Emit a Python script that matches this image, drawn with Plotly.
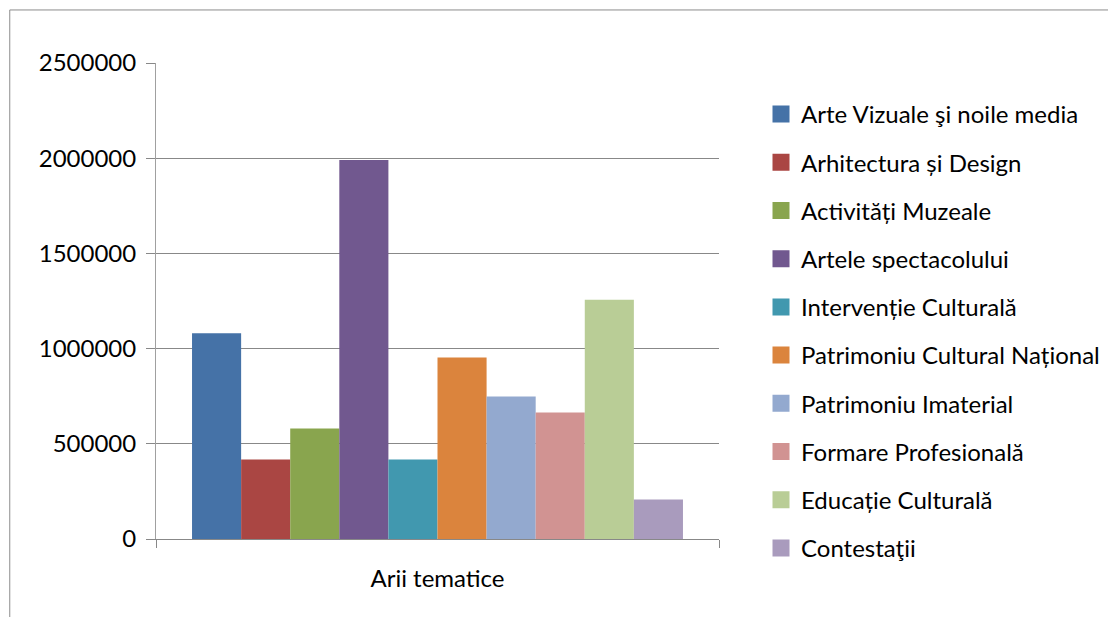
import plotly.graph_objects as go

category = ["Arii tematice"]
series_names = [
    "Arte Vizuale şi noile media",
    "Arhitectura și Design",
    "Activități Muzeale",
    "Artele spectacolului",
    "Intervenție Culturală",
    "Patrimoniu Cultural Național",
    "Patrimoniu Imaterial",
    "Formare Profesională",
    "Educație Culturală",
    "Contestaţii",
]
series_values = [1080000, 418000, 581000, 1991000, 418000, 953000, 748000, 664000, 1257000, 208000]
colors = ["#4572A7", "#AA4643", "#89A54E", "#71588F", "#4198AF",
          "#DB843D", "#93A9CF", "#D19392", "#B9CD96", "#A99BBD"]
y_ticks = [0, 500000, 1000000, 1500000, 2000000, 2500000]

FONT = "Lato"
FS = 24
OFF = 8  # page body margin
W, H = 1116 - OFF, 617 - OFF
# plot area in screen pixels
SX0, SX1, SY0, SY1 = 156, 720, 63, 538.7
ML, MR, MT, MB = SX0 - OFF, W - (SX1 - OFF), SY0 - OFF, H - (SY1 - OFF)
PW, PH = W - ML - MR, H - MT - MB

fig = go.Figure()
for name, val, col in zip(series_names, series_values, colors):
    fig.add_trace(go.Bar(
        x=category, y=[val], name=name, legendgroup=name, showlegend=False,
        marker=dict(color=col, line=dict(width=0)),
    ))
# legend entries (larger swatches), drawn on a hidden overlay axis pair
for name, col in zip(series_names, colors):
    fig.add_trace(go.Bar(
        x=category, y=[None], name=name, legendgroup=name, showlegend=True,
        xaxis="x2", yaxis="y2", hoverinfo="skip",
        marker=dict(color=col, line=dict(color=col, width=5)),
    ))

def px_x(p):  # screen px -> paper
    return (p - SX0) / PW

def px_y(p):
    return (SY1 - p) / PH

grid = "#888888"
fig.update_layout(
    width=W, height=H,
    margin=dict(l=ML, r=MR, t=MT, b=MB, pad=0),
    paper_bgcolor="white", plot_bgcolor="white",
    barmode="group", bargap=0.128, bargroupgap=0,
    font=dict(family=FONT, size=FS, color="#000000"),
    showlegend=True,
    legend=dict(
        x=px_x(761), xanchor="left", y=px_y(92), yanchor="top",
        font=dict(family=FONT, size=FS, color="#000000"),
        tracegroupgap=14, bgcolor="rgba(0,0,0,0)", borderwidth=0,
        maxheight=600,
    ),
    xaxis=dict(
        type="category", showgrid=False, showline=True, linecolor=grid, linewidth=1,
        ticks="outside", tickson="boundaries", ticklen=8, tickcolor=grid,
        ticklabelstandoff=18, tickfont=dict(family=FONT, size=FS, color="#000000"),
        fixedrange=True,
    ),
    yaxis=dict(
        range=[0, 2500000], tickvals=y_ticks, ticktext=[str(v) for v in y_ticks],
        showgrid=True, gridcolor=grid, gridwidth=1,
        showline=True, linecolor="#a0a0a0", linewidth=1,
        ticks="outside", ticklen=9, tickcolor=grid,
        ticklabelstandoff=5, tickfont=dict(family=FONT, size=FS, color="#000000"),
        zeroline=False, fixedrange=True,
    ),
    xaxis2=dict(overlaying="x", visible=False, type="category", fixedrange=True),
    yaxis2=dict(overlaying="y", visible=False, range=[0, 1], fixedrange=True),
    shapes=[
        dict(type="line", xref="paper", yref="paper",
             x0=px_x(9.5), x1=px_x(1130), y0=px_y(10), y1=px_y(10),
             line=dict(color="#8c8c8c", width=1)),
        dict(type="line", xref="paper", yref="paper",
             x0=px_x(9.5), x1=px_x(9.5), y0=px_y(10), y1=px_y(630),
             line=dict(color="#8c8c8c", width=1)),
    ],
)

fig.write_html("out.html")
